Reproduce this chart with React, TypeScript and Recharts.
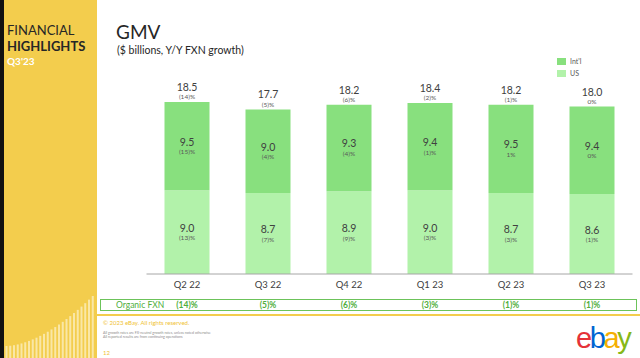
import React from "react";
import { BarChart, Bar, XAxis, YAxis, LabelList } from "recharts";

const quarters = ["Q2 22", "Q3 22", "Q4 22", "Q1 23", "Q2 23", "Q3 23"];
const usGmv = [9.0, 8.7, 8.9, 9.0, 8.7, 8.6];
const intlGmv = [9.5, 9.0, 9.3, 9.4, 9.5, 9.4];
const totalGmv = [18.5, 17.7, 18.2, 18.4, 18.2, 18.0];
const usGrowth = ["(13)%", "(7)%", "(9)%", "(3)%", "(3)%", "(1)%"];
const intlGrowth = ["(15)%", "(4)%", "(4)%", "(1)%", "1%", "0%"];
const totalGrowth = ["(14)%", "(5)%", "(6)%", "(2)%", "(1)%", "0%"];
const organicFxn = ["(14)%", "(5)%", "(6)%", "(3)%", "(1)%", "(1)%"];

const data = quarters.map((q, i) => ({
  quarter: q,
  us: usGmv[i],
  intl: intlGmv[i],
  total: totalGmv[i],
}));

const FONT = "Lato, 'Open Sans', sans-serif";
const YELLOW = "#F3CD4D";
const INTL = "#88E07E";
const US = "#B2F2AA";
const GREEN_TEXT = "#4FAE3C";
const DARK = "#404040";

const segmentLabel = (growth: string[]) => (props: any) => {
  const { x, y, width, height, index, value } = props;
  const cx = x + width / 2;
  const cy = y + height / 2;
  return (
    <g>
      <text x={cx} y={cy - 0.5} textAnchor="middle" fontSize={10.5} fill={DARK} fontFamily={FONT}>
        {Number(value).toFixed(1)}
      </text>
      <text x={cx} y={cy + 8} textAnchor="middle" fontSize={6.5} fill="#595959" fontFamily={FONT}>
        {growth[index]}
      </text>
    </g>
  );
};

const totalLabel = (props: any) => {
  const { x, y, width, index } = props;
  const cx = x + width / 2;
  return (
    <g>
      <text x={cx} y={y - 11} textAnchor="middle" fontSize={10.5} fill={DARK} fontFamily={FONT}>
        {totalGmv[index].toFixed(1)}
      </text>
      <text x={cx} y={y - 2.5} textAnchor="middle" fontSize={6.5} fill="#595959" fontFamily={FONT}>
        {totalGrowth[index]}
      </text>
    </g>
  );
};

const QuarterTick = (props: any) => {
  const { x, y, payload, index } = props;
  return (
    <g>
      <text x={x} y={y + 5.5} textAnchor="middle" fontSize={9.5} fill={DARK} fontFamily={FONT}>
        {payload.value}
      </text>
      <text x={x} y={y + 26} textAnchor="middle" fontSize={8.5} fontWeight={700} fill={GREEN_TEXT} fontFamily={FONT}>
        {organicFxn[index]}
      </text>
    </g>
  );
};

function LeftPanel() {
  const stripes = Array.from({ length: 24 }, (_, i) => i);
  return (
    <div style={{ position: "absolute", left: 0, top: 0, width: 97, height: 358, background: YELLOW }}>
      <div style={{ position: "absolute", left: 0, top: 0, width: 4, height: 358, background: "#111" }} />
      <div style={{ position: "absolute", left: 7, top: 22, fontSize: 13, color: "#262626", lineHeight: "16px" }}>
        FINANCIAL
      </div>
      <div style={{ position: "absolute", left: 7, top: 38, fontSize: 13, fontWeight: 700, color: "#262626", lineHeight: "16px" }}>
        HIGHLIGHTS
      </div>
      <div style={{ position: "absolute", left: 7, top: 55, fontSize: 10, fontWeight: 700, color: "#fff", lineHeight: "13px" }}>
        Q3'23
      </div>
      <svg width={97} height={358} style={{ position: "absolute", left: 0, top: 0 }}>
        {stripes.map((i) => {
          const sx = 5.5 + i * 3.75;
          const h = 12 + 50 * Math.pow(i / 23, 1.7);
          return <rect key={i} x={sx} y={358 - h} width={2} height={h} fill="#FAE7A6" />;
        })}
      </svg>
    </div>
  );
}

export default function App() {
  return (
    <div
      style={{
        position: "absolute",
        left: 0,
        top: 0,
        width: 640,
        height: 358,
        background: "#fff",
        fontFamily: FONT,
        overflow: "hidden",
      }}
    >
      <LeftPanel />
      <div style={{ position: "absolute", left: 116, top: 21, fontSize: 19, color: "#262626", lineHeight: "22px" }}>
        GMV
      </div>
      <div style={{ position: "absolute", left: 117, top: 44, fontSize: 10.5, color: "#262626", lineHeight: "13px" }}>
        ($ billions, Y/Y FXN growth)
      </div>

      <div style={{ position: "absolute", left: 557, top: 58, width: 9, height: 7, background: INTL }} />
      <div style={{ position: "absolute", left: 570, top: 57, fontSize: 7, color: "#595959", lineHeight: "9px" }}>Int'l</div>
      <div style={{ position: "absolute", left: 557, top: 70, width: 9, height: 7, background: US }} />
      <div style={{ position: "absolute", left: 570, top: 69, fontSize: 7, color: "#595959", lineHeight: "9px" }}>US</div>

      <div
        style={{
          position: "absolute",
          left: 100,
          top: 299,
          width: 535,
          height: 10,
          border: "1px solid #6CC35A",
        }}
      />
      <div style={{ position: "absolute", left: 116, top: 300, fontSize: 8.5, color: GREEN_TEXT, lineHeight: "10px" }}>
        Organic FXN
      </div>

      <div style={{ position: "absolute", left: 0, top: 0 }}>
        <BarChart
          width={640}
          height={358}
          data={data}
          margin={{ top: 88, right: 7.5, bottom: 54, left: 146.5 }}
          barSize={45}
        >
          <XAxis
            dataKey="quarter"
            height={30}
            tickLine={false}
            axisLine={{ stroke: "#A6A6A6" }}
            tick={<QuarterTick />}
            interval={0}
          />
          <YAxis hide domain={[0, 20]} />
          <Bar dataKey="us" stackId="gmv" fill={US} isAnimationActive={false}>
            <LabelList dataKey="us" content={segmentLabel(usGrowth)} />
          </Bar>
          <Bar dataKey="intl" stackId="gmv" fill={INTL} isAnimationActive={false}>
            <LabelList dataKey="intl" content={segmentLabel(intlGrowth)} />
            <LabelList dataKey="total" content={totalLabel} />
          </Bar>
        </BarChart>
      </div>

      <div style={{ position: "absolute", left: 97, top: 314, width: 543, height: 2, background: YELLOW }} />
      <div style={{ position: "absolute", left: 103, top: 319, fontSize: 6, color: "#F0C232", lineHeight: "8px" }}>
        © 2023 eBay. All rights reserved.
      </div>
      <div style={{ position: "absolute", left: 103, top: 331, fontSize: 3.6, color: "#8C8C8C", lineHeight: "4.2px" }}>
        All growth rates are FX-neutral growth rates, unless noted otherwise
        <br />
        All reported results are from continuing operations
      </div>
      <div style={{ position: "absolute", left: 103, top: 349, fontSize: 6, color: "#F0C232", lineHeight: "8px" }}>12</div>

      <div
        style={{
          position: "absolute",
          left: 576,
          top: 324,
          fontSize: 29,
          lineHeight: "29px",
          letterSpacing: -2.4,
          fontFamily: "'Liberation Sans', sans-serif",
        }}
      >
        <span style={{ color: "#E53238" }}>e</span>
        <span style={{ color: "#0064D2" }}>b</span>
        <span style={{ color: "#F5AF02" }}>a</span>
        <span style={{ color: "#86B817" }}>y</span>
      </div>
    </div>
  );
}
